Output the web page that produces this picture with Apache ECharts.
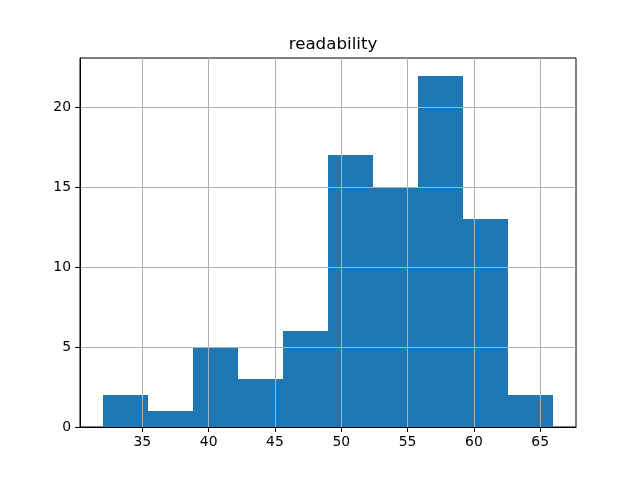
<!DOCTYPE html>
<html>
<head>
<meta charset="utf-8">
<script src="https://cdn.jsdelivr.net/npm/echarts@6/dist/echarts.min.js"></script>
<style>html,body{margin:0;padding:0;background:#fff;}#c{width:640px;height:480px;}</style>
</head>
<body>
<div id="c"></div>
<script>
const binEdges = [32, 35.4, 38.8, 42.2, 45.6, 49, 52.4, 55.8, 59.2, 62.6, 66];
const counts = [2, 1, 5, 3, 6, 17, 15, 22, 13, 2];
const xTickLabels = [35, 40, 45, 50, 55, 60, 65];
const yTickLabels = [0, 5, 10, 15, 20];
const titleText = 'readability';

const data = counts.map((c, i) => [binEdges[i], binEdges[i + 1], c]);
const font = 'DejaVu Sans';

const chart = echarts.init(document.getElementById('c'), null, {renderer: 'canvas'});
chart.setOption({
  animation: false,
  backgroundColor: '#fff',
  title: {
    text: titleText, left: 328, top: 31, textAlign: 'center',
    textStyle: {fontFamily: font, fontSize: 16.7, fontWeight: 'normal', color: '#000'}
  },
  grid: {left: 80, right: 64, top: 58, bottom: 53, show: true, borderColor: '#000', borderWidth: 1, backgroundColor: 'transparent'},
  xAxis: {
    type: 'value', min: 30.3, max: 67.7, minInterval: 5, maxInterval: 5, splitNumber: 8, z: 5,
    axisLine: {show: true, onZero: false, lineStyle: {color: '#000', width: 1}},
    axisTick: {show: true, length: 5, customValues: xTickLabels, lineStyle: {color: '#000'}},
    axisLabel: {
      color: '#000', fontFamily: font, fontSize: 13.9, margin: 8,
      customValues: xTickLabels,
      formatter: v => String(Math.round(v))
    },
    splitLine: {show: true, lineStyle: {color: '#b0b0b0', width: 1}}
  },
  yAxis: {
    type: 'value', min: 0, max: 23.1, minInterval: 5, maxInterval: 5, splitNumber: 5, z: 5,
    axisLine: {show: true, lineStyle: {color: '#000', width: 1}},
    axisTick: {show: true, length: 5, customValues: yTickLabels, lineStyle: {color: '#000'}},
    axisLabel: {
      color: '#000', fontFamily: font, fontSize: 13.9, margin: 9,
      customValues: yTickLabels,
      formatter: v => String(Math.round(v))
    },
    splitLine: {show: true, lineStyle: {color: '#b0b0b0', width: 1}}
  },
  series: [{
    type: 'custom', z: 2,
    encode: {x: [0, 1], y: 2},
    data: data,
    renderItem: (params, api) => {
      const p0 = api.coord([api.value(0), api.value(2)]);
      const p1 = api.coord([api.value(1), 0]);
      const x0 = Math.round(p0[0]), x1 = Math.round(p1[0]);
      const y0 = Math.round(p0[1]), y1 = Math.round(p1[1]);
      return {type: 'rect', shape: {x: x0, y: y0, width: x1 - x0, height: y1 - y0},
        style: {fill: '#1f77b4'}};
    }
  }]
});
</script>
</body>
</html>
